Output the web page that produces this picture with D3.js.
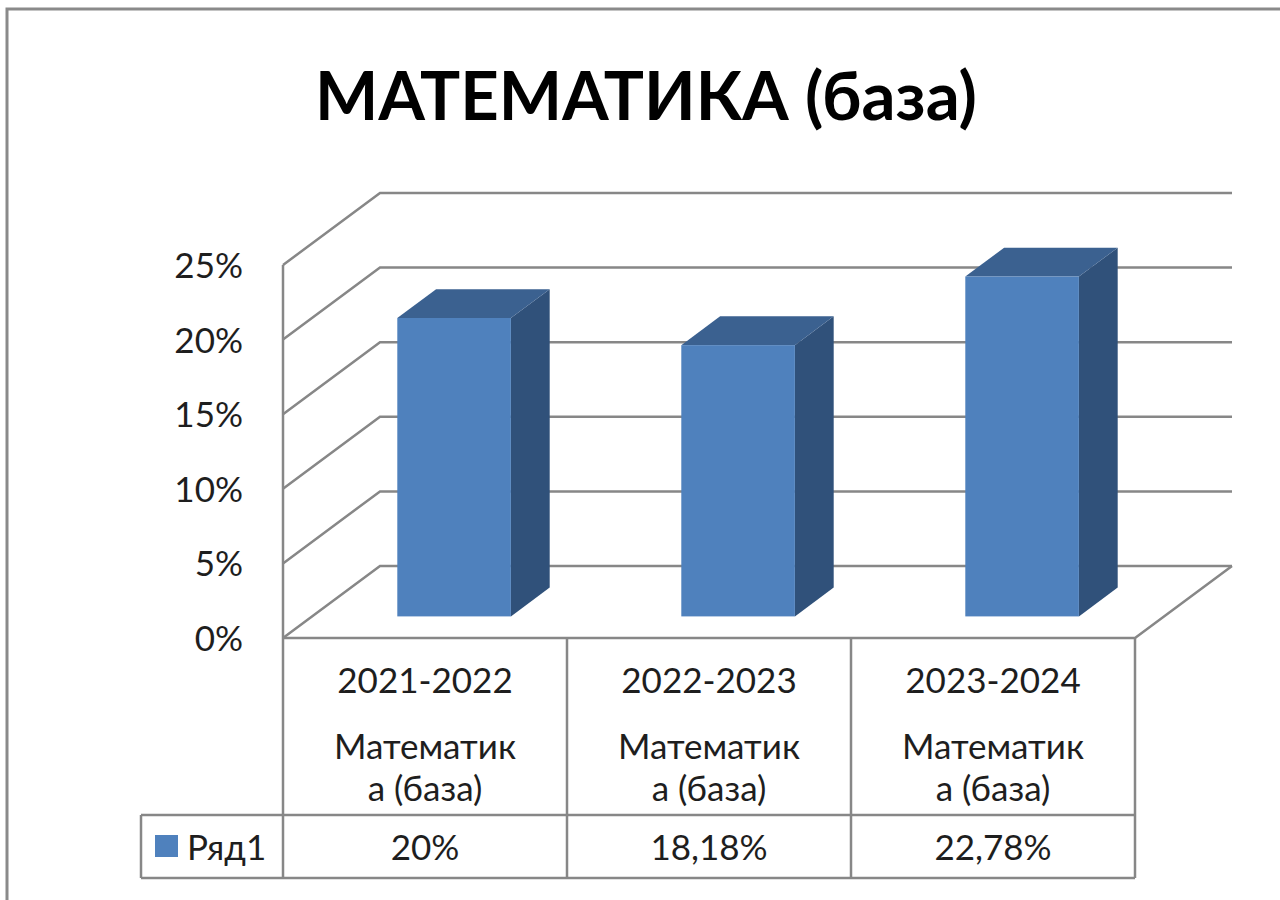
<!DOCTYPE html>
<html>
<head>
<meta charset="utf-8">
<script src="https://cdn.jsdelivr.net/npm/d3@7"></script>
<style>
  html, body { margin: 0; padding: 0; background: #fff; }
  svg { display: block; }
  text { font-family: Lato, "Open Sans", sans-serif; fill: #1e1e1e; }
</style>
</head>
<body>
<div id="chart"></div>
<script>
// chart data
const title = "МАТЕМАТИКА (база)";
const seriesName = "Ряд1";
const years = ["2021-2022", "2022-2023", "2023-2024"];
const subjects = ["Математика (база)", "Математика (база)", "Математика (база)"];
const values = [0.20, 0.1818, 0.2278];
const valueLabels = ["20%", "18,18%", "22,78%"];
const yTicks = [0, 0.05, 0.10, 0.15, 0.20, 0.25];

const width = 1280;
const height = 900;

// plot geometry (front plane of the 3D box + depth offset)
const left = 283, right = 1135;
const floorY = 638, topY = 265;
const depthDX = 97, depthDY = -72;
const tableRow1 = 815, tableRow2 = 878, legendLeft = 141;

const grid = "#878787";
const front = "#4f81bd", topFace = "#3b6190", side = "#30517a";

const svg = d3.select("#chart")
    .append("svg")
    .attr("width", width)
    .attr("height", height);

// outer frame
svg.append("rect")
    .attr("x", 7).attr("y", 9)
    .attr("width", width + 20).attr("height", height + 20)
    .attr("fill", "none")
    .attr("stroke", "#8a8a8a")
    .attr("stroke-width", 3);

const x = d3.scaleBand()
    .domain(d3.range(years.length))
    .range([left, right]);

const y = d3.scaleLinear()
    .domain([0, 0.25])
    .range([floorY, topY]);

// depth: 0 = front, 1 = back wall
const dx = d3.scaleLinear().domain([0, 1]).range([0, depthDX]);
const dy = d3.scaleLinear().domain([0, 1]).range([0, depthDY]);

// title
svg.append("text")
    .attr("x", 646)
    .attr("y", 120)
    .attr("text-anchor", "middle")
    .style("font-size", "67px")
    .style("font-weight", "bold")
    .style("fill", "#000")
    .text(title);

// gridlines on left wall and back wall
const gridG = svg.append("g")
    .attr("fill", "none")
    .attr("stroke", grid)
    .attr("stroke-width", 2.5);

gridG.selectAll("path.grid")
    .data(yTicks)
    .enter()
    .append("path")
    .attr("class", "grid")
    .attr("d", d => {
        const p = d3.path();
        p.moveTo(left, y(d));
        p.lineTo(left + dx(1), y(d) + dy(1));
        p.lineTo(right + dx(1), y(d) + dy(1));
        return p.toString();
    });

// floor: front edge and right edge
gridG.append("path")
    .attr("d", () => {
        const p = d3.path();
        p.moveTo(left, y(0));
        p.lineTo(right, y(0));
        p.lineTo(right + dx(1), y(0) + dy(1));
        return p.toString();
    });

// vertical axis line
gridG.append("line")
    .attr("x1", left).attr("x2", left)
    .attr("y1", y(0.25)).attr("y2", tableRow2);

// y axis labels
svg.selectAll("text.ytick")
    .data(yTicks)
    .enter()
    .append("text")
    .attr("class", "ytick")
    .attr("x", 243)
    .attr("y", d => y(d) + 13)
    .attr("text-anchor", "end")
    .style("font-size", "35px")
    .text(d3.format(".0%"));

// 3D bars
const z0 = 0.3, z1 = 0.7;
const bw = x.bandwidth() * 0.4;
const bars = svg.selectAll("g.bar")
    .data(values)
    .enter()
    .append("g")
    .attr("class", "bar");

const bx = (i) => x(i) + x.bandwidth() * 0.3 + dx(z0);
const by = (v) => y(v) + dy(z0);
const base = y(0) + dy(z0);
const ox = dx(z1) - dx(z0), oy = dy(z1) - dy(z0);

bars.append("path")
    .attr("fill", side)
    .attr("d", (d, i) => {
        const x1 = bx(i) + bw;
        return `M${x1},${by(d)}L${x1 + ox},${by(d) + oy}L${x1 + ox},${base + oy}L${x1},${base}Z`;
    });

bars.append("path")
    .attr("fill", topFace)
    .attr("d", (d, i) => {
        const x0 = bx(i), t = by(d);
        return `M${x0},${t}L${x0 + ox},${t + oy}L${x0 + bw + ox},${t + oy}L${x0 + bw},${t}Z`;
    });

bars.append("rect")
    .attr("fill", front)
    .attr("x", (d, i) => bx(i))
    .attr("y", d => by(d))
    .attr("width", bw)
    .attr("height", d => base - by(d));

// data table
const tableG = svg.append("g")
    .attr("fill", "none")
    .attr("stroke", grid)
    .attr("stroke-width", 2.5);

tableG.append("line")
    .attr("x1", legendLeft).attr("x2", right)
    .attr("y1", tableRow1).attr("y2", tableRow1);
tableG.append("line")
    .attr("x1", legendLeft).attr("x2", right)
    .attr("y1", tableRow2).attr("y2", tableRow2);
tableG.append("line")
    .attr("x1", legendLeft).attr("x2", legendLeft)
    .attr("y1", tableRow1).attr("y2", tableRow2);

tableG.selectAll("line.col")
    .data(d3.range(1, years.length + 1))
    .enter()
    .append("line")
    .attr("class", "col")
    .attr("x1", d => x(d - 1) + x.bandwidth())
    .attr("x2", d => x(d - 1) + x.bandwidth())
    .attr("y1", y(0))
    .attr("y2", tableRow2);

// category labels (wrapped like Excel)
const wrap = (yr, subj) => [yr, subj.slice(0, 9), subj.slice(9).trim()];
const lineY = [693, 759, 801];

years.forEach((yr, i) => {
    const lines = wrap(yr, subjects[i]);
    svg.selectAll(null)
        .data(lines)
        .enter()
        .append("text")
        .attr("x", x(i) + x.bandwidth() / 2)
        .attr("y", (d, j) => lineY[j])
        .attr("text-anchor", "middle")
        .style("font-size", "35px")
        .text(d => d);
});

// values row
svg.selectAll("text.val")
    .data(valueLabels)
    .enter()
    .append("text")
    .attr("class", "val")
    .attr("x", (d, i) => x(i) + x.bandwidth() / 2)
    .attr("y", 860)
    .attr("text-anchor", "middle")
    .style("font-size", "35px")
    .text(d => d);

// legend key
svg.append("rect")
    .attr("x", 155).attr("y", 835)
    .attr("width", 23).attr("height", 22)
    .attr("fill", front);
svg.append("text")
    .attr("x", 187)
    .attr("y", 860)
    .style("font-size", "35px")
    .text(seriesName);
</script>
</body>
</html>
